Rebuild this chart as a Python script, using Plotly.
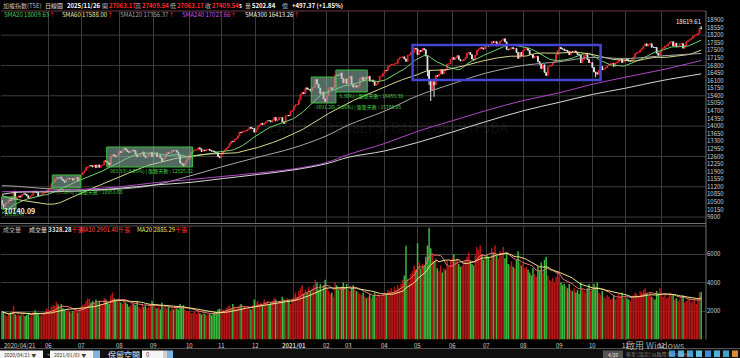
import numpy as np
import pandas as pd
import plotly.graph_objects as go

W, H = 740, 358
FONT = "Noto Sans CJK TC"

# ---------------- trading calendar ----------------
holidays = ["2020-05-01", "2020-06-25", "2020-06-26", "2020-10-01", "2020-10-02", "2020-10-09",
            "2021-01-01", "2021-02-08", "2021-02-09", "2021-02-10", "2021-02-11", "2021-02-12",
            "2021-02-15", "2021-02-16", "2021-03-01", "2021-04-02", "2021-04-05", "2021-06-14",
            "2021-09-20", "2021-09-21", "2021-10-11", "2021-12-31"]

# ---------------- daily closes (index points) ----------------
pre_close = [12179, 12152, 12067, 12092, 12090, 12118, 11421, 11495,
             11354, 11555, 11573, 11749, 11612, 11574, 11664, 11774, 11791, 11815, 11763, 11648,
             11725, 11687, 11534, 11421, 11433, 11292, 11200,
             11170, 11320, 11393, 11514, 11321, 10977, 11004, 10893, 10422, 10128, 9717, 9439,
             9218, 8681, 9234, 8890, 9286, 9644, 9698, 9736, 9629, 9708,
             9663, 9996, 10138, 10099, 10137, 10157, 10139, 10333, 10332, 10375, 10597, 10586]

c2020_04 = [10376, 10290, 10447, 10448, 10591, 10568, 10742, 10992]
c2020_05 = [10640, 10720, 10774, 10723, 10842, 10879, 10852, 10780, 10680, 10772, 10808, 10992,
            10966, 10939, 10771, 10794, 10872, 10915, 10933, 10943]
c2020_06 = [11080, 11120, 11350, 11420, 11529, 11614, 11601, 11655, 11550, 11480, 11400, 11553,
            11588, 11561, 11583, 11500, 11596, 11634, 11475, 11621]
c2020_07 = [11750, 11850, 11950, 12094, 12116, 12180, 12170, 12120, 12200, 12090, 12210, 12100,
            12180, 12200, 12400, 12370, 12300, 12200, 12590, 12680, 12630, 12590, 12664]
c2020_08 = [12830, 12780, 12890, 12980, 12900, 12830, 12790, 12810, 12900, 12860, 12700, 12580,
            12620, 12720, 12800, 12640, 12540, 12620, 12700, 12790, 12591]
c2020_09 = [12700, 12770, 12600, 12640, 12530, 12370, 12500, 12640, 12770, 12750, 12770, 12870,
            12860, 12880, 12800, 12650, 12300, 12250, 12154, 12300, 12460, 12516]
c2020_10 = [12700, 12780, 12880, 12900, 12910, 13000, 12950, 12830, 12900, 12870, 12910, 12930,
            12880, 12850, 12840, 12800, 12770, 12600, 12546]
c2020_11 = [12700, 12820, 12900, 12980, 13050, 13200, 13300, 13280, 13380, 13430, 13550, 13720,
            13700, 13770, 13770, 13800, 13850, 13950, 13900, 13900, 13722]
c2020_12 = [13840, 13990, 14050, 14130, 14070, 14130, 14200, 14260, 14250, 14200, 14280, 14400,
            14250, 14280, 14400, 14400, 14200, 14120, 14470, 14500, 14480, 14680, 14733]
c2021_01 = [14902, 14983, 15000, 15214, 15464, 15557, 15500, 15769, 15707, 15707, 15616, 15770,
            15806, 16153, 15946, 15760, 15500, 15580, 15260, 15138]
c2021_02 = [15410, 15760, 15770, 15690, 15802, 16362, 16350, 16341, 16452, 16200, 16000, 16179, 15953]
c2021_03 = [16200, 16300, 15950, 15800, 15870, 15800, 15860, 16200, 16250, 16100, 16250, 16200,
            16300, 16070, 16130, 16050, 15880, 15940, 16070, 16300, 16300, 16431]
c2021_04 = [16570, 16560, 16750, 16800, 16850, 16850, 16870, 16900, 17080, 17160, 17170, 17200,
            17100, 16990, 17270, 17300, 17400, 17400, 17600, 17566]
c2021_05 = [17300, 17500, 17450, 17583, 17530, 17235, 16583, 16142, 15670, 16053, 15902, 16338,
            16303, 16400, 16600, 16414, 16600, 16595, 16870, 16870, 17068]
c2021_06 = [17165, 17080, 17150, 17250, 17080, 17010, 17020, 17080, 17160, 17370, 17400, 17300,
            17100, 17060, 17280, 17500, 17550, 17620, 17600, 17560, 17755]
c2021_07 = [17710, 17700, 17710, 17900, 17866, 17900, 17700, 17800, 17930, 17950, 18034, 17895,
            17550, 17530, 17570, 17630, 17570, 17580, 17400, 17130, 17400, 17247]
c2021_08 = [17500, 17550, 17600, 17500, 17323, 17300, 17150, 17220, 17220, 16980, 16860, 16660,
            16830, 16480, 16341, 16740, 16770, 16820, 16930, 16980, 17300, 17490]
c2021_09 = [17640, 17570, 17560, 17500, 17500, 17440, 17300, 17440, 17430, 17470, 17410, 17300,
            17280, 16930, 17080, 17260, 17313, 17080, 16930, 16935]
c2021_10 = [16705, 16500, 16460, 16400, 16570, 16750, 16600, 16650, 16700, 16780, 16840, 16880,
            16900, 16760, 16920, 16950, 17050, 17100, 16940, 16987]
c2021_11 = [17100, 17060, 17000, 17000, 17060, 17200, 17350, 17400, 17420, 17520, 17580, 17700,
            17800, 17700, 17770, 17800, 17640, 17640, 17630, 17370, 17270, 17427]
c2021_12 = [17600, 17600, 17700, 17700, 17800, 17880, 17900, 17700, 17830, 17660, 17680, 17800,
            17810, 17600, 17720, 17900, 17950, 18000, 18050, 18150, 18200, 18218]
c2022_01 = [18270, 18526, 18499]

low_marks = {"2020-04-22": 10140.09, "2021-05-11": 16300, "2021-05-12": 15900,
             "2021-05-13": 15159.86, "2021-05-17": 15353.89, "2021-10-05": 16248}
high_marks = {"2021-07-15": 18034.19, "2022-01-05": 18619.61}

# ---------------- daily volume ----------------
v2020_04 = [1950, 1880, 1720, 1640, 1810, 1900, 2000, 2350]
v2020_05 = [1780, 1700, 1750, 1680, 1850, 1780, 1650, 1720, 1900, 1600, 1700, 1950, 2050, 1900,
            1800, 1650, 1700, 1850, 1900, 2200]
v2020_06 = [2100, 2050, 2300, 2400, 2350, 2650, 2450, 2300, 2500, 2200, 2100, 2000, 2150, 1950,
            1900, 2000, 2100, 2050, 1900, 2200]
v2020_07 = [2300, 2400, 2500, 2700, 2900, 2850, 2600, 2700, 2500, 2800, 2600, 2700, 2500, 2400,
            2900, 2800, 2600, 2500, 3100, 3300, 2900, 2700, 2800]
v2020_08 = [2700, 2600, 2500, 2800, 2600, 2500, 2300, 2400, 2600, 2500, 2400, 2700, 2300, 2200,
            2500, 2300, 2400, 2200, 2300, 2500, 2700]
v2020_09 = [2400, 2300, 2200, 2300, 2100, 2600, 2300, 2400, 2200, 2300, 2000, 2200, 2100, 2300,
            2200, 2100, 2500, 2300, 2400, 2100, 2000, 2000]
v2020_10 = [1900, 1850, 1900, 2000, 1800, 2050, 1850, 1750, 1900, 1800, 1700, 1750, 1850, 1700,
            1800, 1950, 1900, 2100, 2150]
v2020_11 = [2000, 2100, 1950, 2200, 2300, 2400, 2200, 2500, 2300, 2150, 2300, 2400, 2500, 2200,
            2300, 2100, 2200, 2300, 2100, 2400, 2800]
v2020_12 = [2600, 2700, 2500, 2600, 2400, 2800, 2600, 2700, 2500, 2600, 2700, 2900, 2800, 2500,
            2700, 2600, 3000, 2800, 2600, 2900, 2800, 2500, 2900]
v2021_01 = [3100, 3300, 3000, 3400, 3600, 3800, 3200, 3500, 3300, 3700, 3400, 3600, 3800, 4200,
            4000, 3500, 3900, 3400, 3800, 4200]
v2021_02 = [3600, 3400, 3200, 3300, 3000, 4000, 3800, 3500, 3600, 3700, 4000, 3600, 3900]
v2021_03 = [3500, 3400, 3600, 3800, 3500, 3400, 3300, 3200, 3100, 3300, 3000, 2900, 3000, 3200,
            2900, 3100, 3300, 3000, 3200, 3100, 3000, 3200]
v2021_04 = [3300, 3200, 3500, 3400, 3600, 3300, 3700, 3500, 3800, 3600, 3900, 4200, 4500, 6580,
            4300, 4000, 4600, 4800, 5200, 4900]
v2021_05 = [6750, 5400, 5000, 5300, 5200, 5800, 6600, 7850, 6400, 6000, 5500, 5700, 5000, 4800,
            5200, 4700, 5000, 4900, 5500, 5100, 5600]
v2021_06 = [5700, 6000, 5500, 5700, 5300, 5100, 5200, 5400, 5600, 5800, 6100, 5500, 5300, 5200,
            5900, 6500, 6300, 6600, 6000, 5600, 5900]
v2021_07 = [6000, 5800, 5600, 6400, 6100, 6600, 5900, 5700, 6200, 5900, 6500, 5700, 6100, 5300,
            5200, 5500, 5100, 5000, 5600, 6200, 5400, 5200]
v2021_08 = [5300, 5000, 5100, 4900, 4700, 4500, 5000, 4600, 4400, 5100, 4800, 5400, 4700, 5600,
            5800, 4500, 4200, 4100, 4300, 4000, 4400, 4800]
v2021_09 = [4400, 4000, 3800, 3900, 3700, 3600, 3900, 3500, 3400, 3600, 3300, 3500, 3200, 4000,
            3500, 3400, 3300, 3600, 3900, 3400]
v2021_10 = [3500, 3900, 3700, 4000, 3300, 3100, 3400, 3000, 2900, 3100, 3000, 2800, 2900, 3100,
            2800, 2900, 3200, 3000, 3300, 2900]
v2021_11 = [3000, 2900, 2800, 2700, 3000, 3100, 3300, 3200, 3000, 3400, 3300, 3500, 3600, 3200,
            3100, 3300, 3000, 2900, 2800, 3400, 3200, 3600]
v2021_12 = [3200, 3000, 3100, 2900, 3000, 3300, 3100, 3200, 2800, 2900, 2700, 2800, 3000, 3100,
            2600, 2700, 2800, 2900, 2600, 2700, 2800, 2500]
v2022_01 = [2900, 3300, 3328.28]

# ---------------- long moving averages read at month starts ----------------
ma_dates = ["2020-04-21", "2020-05-04", "2020-06-01", "2020-07-01", "2020-08-03", "2020-09-01",
            "2020-10-05", "2020-11-02", "2020-12-01", "2021-01-04", "2021-02-01", "2021-03-02",
            "2021-04-01", "2021-05-03", "2021-06-01", "2021-07-01", "2021-08-02", "2021-09-01",
            "2021-10-01", "2021-11-01", "2021-12-01", "2022-01-05"]
sma120 = [11250, 11225, 11108, 11050, 11092, 11275, 11700, 12117, 12542, 13000, 13558, 14050,
          14692, 15400, 15950, 16458, 16800, 16975, 17175, 17117, 17242, 17356]
sma240 = [10970, 10979, 11004, 11079, 11196, 11383, 11529, 11671, 11825, 12025, 12325, 12688,
          13196, 13758, 14246, 14729, 15179, 15538, 15933, 16258, 16596, 17028]
sma300 = [10850, 10936, 10964, 11007, 11129, 11279, 11400, 11571, 11757, 11979, 12268, 12561,
          12854, 13246, 13725, 14221, 14707, 15100, 15461, 15750, 16100, 16413]

# ---------------- consolidation boxes ----------------
box_start = ["2020-04-21", "2020-06-04", "2020-07-23", "2021-01-19", "2021-02-18"]
box_end = ["2020-05-04", "2020-06-30", "2020-10-06", "2021-02-17", "2021-03-17"]
box_low = [10175, 11143, 12113, 15068, 15575]
box_high = [10728, 11744, 13036, 16268, 16590]
box_text = ["10530.47", "-(7.50%) | 盤整天數 : 10953.60", "983.93(-8.05%) | 盤整天數 : 12825.92",
            "-1691.20(-2.06%) | 盤整天數 : 15706.85", "3.30%) | 盤整天數 : 16455.38"]
blue_start, blue_end, blue_low, blue_high = "2021-04-28", "2021-10-08", 16130, 17746

price_ticks = list(range(9800, 18901, 350))
vol_ticks = [2000, 4000, 6000]

# ================= build =================
dates = pd.bdate_range("2020-04-21", "2022-01-05")
dates = dates[~dates.isin(pd.to_datetime(holidays))]
n = len(dates)
xi = np.arange(n)
def di(d):
    return int(dates.searchsorted(pd.Timestamp(d)))

close = np.array(c2020_04 + c2020_05 + c2020_06 + c2020_07 + c2020_08 + c2020_09 + c2020_10 +
                 c2020_11 + c2020_12 + c2021_01 + c2021_02 + c2021_03 + c2021_04 + c2021_05 +
                 c2021_06 + c2021_07 + c2021_08 + c2021_09 + c2021_10 + c2021_11 + c2021_12 +
                 c2022_01, float)
vol = np.array(v2020_04 + v2020_05 + v2020_06 + v2020_07 + v2020_08 + v2020_09 + v2020_10 +
               v2020_11 + v2020_12 + v2021_01 + v2021_02 + v2021_03 + v2021_04 + v2021_05 +
               v2021_06 + v2021_07 + v2021_08 + v2021_09 + v2021_10 + v2021_11 + v2021_12 +
               v2022_01, float)
assert len(close) == n and len(vol) == n, (n, len(close), len(vol))

opn = np.concatenate([[pre_close[-1]], close[:-1]])
high = np.maximum(opn, close)
low = np.minimum(opn, close)
for d, v in low_marks.items():
    low[di(d)] = v
for d, v in high_marks.items():
    high[di(d)] = v
up = close >= opn

full = pd.Series(list(pre_close) + list(close))
sma20 = full.rolling(20).mean().values[len(pre_close):]
sma60 = full.rolling(60).mean().values[len(pre_close):]
ma_x = [di(d) for d in ma_dates]
vma10 = pd.Series(vol).rolling(10, min_periods=1).mean().values
vma20 = pd.Series(vol).rolling(20, min_periods=1).mean().values

# pixel helpers
X0PX, DX = 2.0, 1.649
LPX, RPX = 1, 706
xr = [(LPX - X0PX) / DX, (RPX - X0PX) / DX]
def pxx(x):
    return x / W
def pxy(y):
    return 1 - y / H

fig = go.Figure()
fig.add_trace(go.Candlestick(x=xi, open=opn, high=high, low=low, close=close,
                             increasing=dict(line=dict(color="#e8262a", width=1), fillcolor="#e8262a"),
                             decreasing=dict(line=dict(color="#e6e6e6", width=1), fillcolor="#e6e6e6"),
                             whiskerwidth=0, xaxis="x", yaxis="y", hoverinfo="skip"))
fig.add_trace(go.Scatter(x=xi, y=sma20, mode="lines", line=dict(color="#6fd36f", width=1),
                         xaxis="x", yaxis="y", hoverinfo="skip"))
fig.add_trace(go.Scatter(x=xi, y=sma60, mode="lines", line=dict(color="#d8d890", width=1),
                         xaxis="x", yaxis="y", hoverinfo="skip"))
fig.add_trace(go.Scatter(x=ma_x, y=sma120, mode="lines", line=dict(color="#a8a8a8", width=1, shape="spline"),
                         xaxis="x", yaxis="y", hoverinfo="skip"))
fig.add_trace(go.Scatter(x=ma_x, y=sma240, mode="lines", line=dict(color="#b048c8", width=1, shape="spline"),
                         xaxis="x", yaxis="y", hoverinfo="skip"))
fig.add_trace(go.Scatter(x=ma_x, y=sma300, mode="lines", line=dict(color="#d8d8d8", width=1, shape="spline"),
                         xaxis="x", yaxis="y", hoverinfo="skip"))

fig.add_trace(go.Bar(x=xi, y=vol, marker=dict(color=np.where(up, "#b81616", "#3cb83c"), line=dict(width=0)),
                     width=0.92, xaxis="x2", yaxis="y2", hoverinfo="skip"))
fig.add_trace(go.Scatter(x=xi, y=vma10, mode="lines", line=dict(color="#f07070", width=1),
                         xaxis="x2", yaxis="y2", hoverinfo="skip"))
fig.add_trace(go.Scatter(x=xi, y=vma20, mode="lines", line=dict(color="#f0e68c", width=1),
                         xaxis="x2", yaxis="y2", hoverinfo="skip"))

month_starts = [di(d) for d in ["2020-06-01", "2020-07-01", "2020-08-03", "2020-09-01", "2020-10-05",
                                "2020-11-02", "2020-12-01", "2021-01-04", "2021-02-01", "2021-03-02",
                                "2021-04-01", "2021-05-03", "2021-06-01", "2021-07-01", "2021-08-02",
                                "2021-09-01", "2021-10-01", "2021-11-01", "2021-12-01"]]
month_labels = ["06", "07", "08", "09", "10", "11", "12", "2021/01", "02", "03", "04", "05", "06",
                "07", "08", "09", "10", "11", "12"]

grid = "#3c3c3c"
xd = [LPX / W, RPX / W]
common_x = dict(domain=xd, range=xr, showticklabels=False, tickvals=month_starts, showgrid=True,
                gridcolor=grid, gridwidth=1, zeroline=False, showline=False, fixedrange=True)
fig.update_layout(
    width=W, height=H, margin=dict(l=0, r=0, t=0, b=0),
    paper_bgcolor="#000000", plot_bgcolor="#000000", showlegend=False,
    font=dict(family=FONT, color="#d0d0d0", size=6),
    xaxis=dict(**common_x, rangeslider=dict(visible=False)),
    xaxis2=dict(**common_x, anchor="y2", matches="x"),
    yaxis=dict(domain=[pxy(223), pxy(11)], range=[18900 - (223 - 20) * 350 / 7.58, 18900 + 9 * 350 / 7.58],
               side="right", tickvals=price_ticks, ticktext=[str(t) for t in price_ticks],
               tickfont=dict(size=6, color="#d0d0d0", family=FONT), showgrid=False, zeroline=False,
               ticks="", anchor="x", fixedrange=True),
    yaxis2=dict(domain=[pxy(339.5), pxy(226)], range=[0, (339.5 - 226) * 2000 / 28.5], side="right",
                tickvals=vol_ticks, tickfont=dict(size=6, color="#d0d0d0", family=FONT),
                showgrid=True, gridcolor=grid, zeroline=False, ticks="", anchor="x2", fixedrange=True),
)

shapes = []
# panel borders
shapes.append(dict(type="line", xref="paper", yref="paper", x0=pxx(1), x1=pxx(706), y0=pxy(11), y1=pxy(11),
                   line=dict(color="#6a3a44", width=1)))
shapes.append(dict(type="line", xref="paper", yref="paper", x0=pxx(0), x1=pxx(706), y0=pxy(223.5), y1=pxy(223.5),
                   line=dict(color="#707070", width=1)))
shapes.append(dict(type="line", xref="paper", yref="paper", x0=pxx(0), x1=pxx(706), y0=pxy(226), y1=pxy(226),
                   line=dict(color="#505050", width=1)))
shapes.append(dict(type="line", xref="paper", yref="paper", x0=pxx(706), x1=pxx(706), y0=pxy(11), y1=pxy(339.5),
                   line=dict(color="#707070", width=1)))
shapes.append(dict(type="line", xref="paper", yref="paper", x0=pxx(0), x1=pxx(740), y0=pxy(348.5), y1=pxy(348.5),
                   line=dict(color="#505050", width=1)))
# horizontal price grid
for t in price_ticks[::4]:
    shapes.append(dict(type="line", xref="paper", yref="y", x0=pxx(1), x1=pxx(706), y0=t, y1=t,
                       line=dict(color=grid, width=1), layer="below"))
# consolidation boxes
for s, e, lo, hi in zip(box_start, box_end, box_low, box_high):
    shapes.append(dict(type="rect", xref="x", yref="y", x0=di(s) - 0.5, x1=di(e) + 0.5, y0=lo, y1=hi,
                       fillcolor="rgba(150,190,175,0.55)", line=dict(color="#3cc03c", width=1), layer="above"))
shapes.append(dict(type="rect", xref="x", yref="y", x0=di(blue_start), x1=di(blue_end), y0=blue_low,
                   y1=blue_high, line=dict(color="#4646d2", width=2.5), fillcolor="rgba(0,0,0,0)"))
# bottom toolbar
shapes.append(dict(type="rect", xref="paper", yref="paper", x0=0, x1=1, y0=0, y1=pxy(349),
                   fillcolor="#101010", line=dict(width=0), layer="below"))
for x0, x1, c in [(0, 43, "#f4f4f4"), (50, 93, "#f4f4f4"), (93, 100, "#7fb4e0"), (142, 163, "#f4f4f4"),
                  (163, 167, "#d0d0d0"), (167, 173, "#7fb4e0"), (603, 623, "#555555")]:
    shapes.append(dict(type="rect", xref="paper", yref="paper", x0=pxx(x0), x1=pxx(x1), y0=pxy(358),
                       y1=pxy(350.5), fillcolor=c, line=dict(width=0)))
for i, c in enumerate(["#3a8fd8", "#50b0e0", "#40a0d0", "#60c0e0", "#3a8fd8", "#50b0e0", "#40a0d0", "#e08a30"]):
    x0 = 669 + i * 9
    shapes.append(dict(type="rect", xref="paper", yref="paper", x0=pxx(x0), x1=pxx(x0 + 6), y0=pxy(357),
                       y1=pxy(350.5), fillcolor=c, line=dict(width=0)))
fig.update_layout(shapes=shapes)

ann = []
def txt(x, y, s, color="#d0d0d0", size=6, anchor="left", xref="paper", yref="paper"):
    ann.append(dict(x=x if xref != "paper" else pxx(x), y=y if yref != "paper" else pxy(y), xref=xref,
                    yref=yref, text=s, showarrow=False, xanchor=anchor, yanchor="middle",
                    font=dict(family=FONT, size=size, color=color)))

red = "#ff2a2a"
txt(1, 5, "加權指數(TSE)", "#bdbdbd")
txt(43, 5, "日線圖", "#e0e0e0")
txt(65, 5, "<b>2025/11/26</b>", "#ffffff")
for x, lab, val in [(100, "開", "27063.17"), (133, "高", "27409.54"), (168, "低", "27063.17"), (203, "收", "27409.54")]:
    txt(x, 5, lab, "#bdbdbd")
    txt(x + 7, 5, "<b>" + val + "</b>", red)
txt(237, 5, "<b>s</b>", "#ffffff")
txt(243, 5, "量", "#bdbdbd")
txt(250, 5, "<b>5202.84</b>", "#ffffff")
txt(280, 5, "億", "#bdbdbd")
txt(290, 5, "<b>+497.37 (+1.85%)</b>", "#ffffff")
arrow = "<span style='color:#ff2a2a'>↑</span>"
for x, s, c in [(2, "SMA20 18009.63", "#3fcf5f"), (60, "SMA60 17588.00", "#e8e8a8"),
                (118, "SMA120 17356.37", "#a0a0a0"), (180, "SMA240 17027.66", "#d050e8"),
                (243, "SMA300 16413.26", "#f0f0f0")]:
    txt(x, 14, s + arrow, c)
txt(1, 229, "成交量", "#bdbdbd")
txt(27, 229, "成交量 <b>3328.28</b>" + "<span style='color:#ff2a2a'>千張</span>", "#e0e0e0")
txt(78, 229, "MA10 2901.40" + "<span style='color:#ff2a2a'>千張</span>", "#ff5050")
txt(135, 229, "MA20 2885.29" + "<span style='color:#ff2a2a'>千張</span>", "#f0e060")
# extremes
txt(2, 211, "<b>10140.09</b>", "#f0f0f0", size=7)
txt(703, 22, "18619.61", "#f0f0f0", anchor="right")
# box texts
for s, e, lo, t in zip(box_start, box_end, box_low, box_text):
    txt(di(s), lo - 200, t, "#40d040", size=5, xref="x", yref="y")
# watermark
txt(388, 127, "EA3BE7F3D58EF5FB4FB7BE8B7F5BA", "rgba(120,120,120,0.14)", size=14, anchor="center")
# date labels
txt(2, 345, "2020/04/21", "#d0d0d0")
for m, lab in zip(month_starts, month_labels):
    ann.append(dict(x=m, y=pxy(345), xref="x2", yref="paper", showarrow=False, xanchor="center",
                    yanchor="middle", text=("<b>%s</b>" % lab) if "/" in lab else lab,
                    font=dict(family=FONT, size=6, color="#d0d0d0")))
# toolbar texts
txt(2, 354, "2020/04/21 ▼", "#404040", size=5)
txt(45, 354, "~", "#d0d0d0", size=6)
txt(52, 354, "2021/01/01 ▼", "#404040", size=5)
txt(106, 354, "保留空間", "#f0f0f0", size=8)
txt(144, 354, "0", "#404040", size=6)
txt(613, 354, "4/26", "#e0e0e0", size=5, anchor="center")
txt(624, 345, "啟用 Windows", "rgba(200,200,200,0.8)", size=9)
txt(624, 354, "移至 [設定] 以啟用 Windows。", "rgba(180,180,180,0.7)", size=5)
fig.update_layout(annotations=ann)

fig.write_html("out.html", config={"displayModeBar": False, "staticPlot": True},
               post_script="document.body.style.margin='0';document.body.style.overflow='hidden';")
